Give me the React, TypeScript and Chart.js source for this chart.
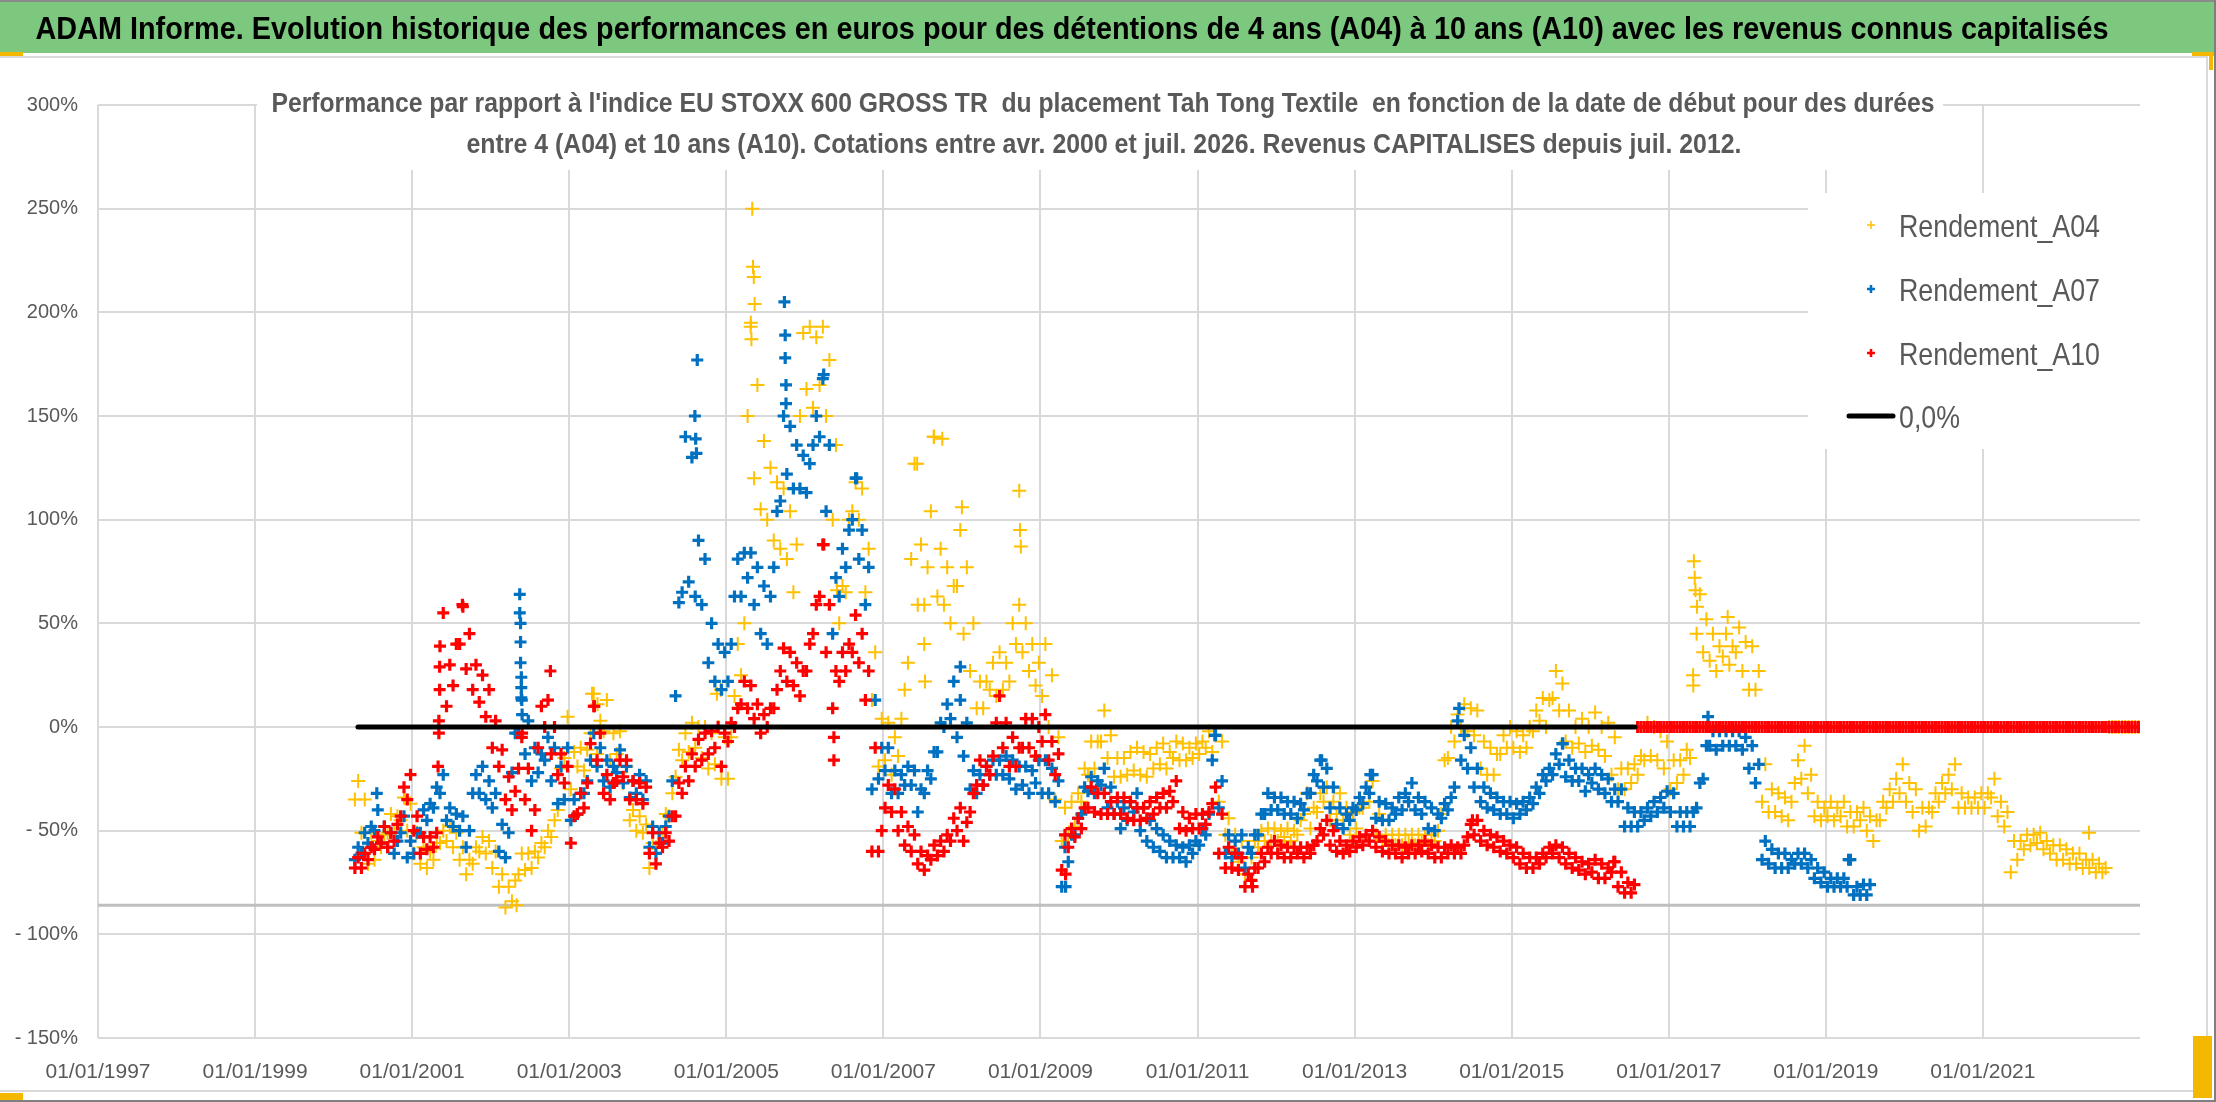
import React, { useEffect, useRef } from "react";
import { Chart, registerables } from "chart.js";

Chart.register(...registerables);

const TITLE =
  "ADAM Informe. Evolution historique des performances en euros pour des détentions de 4 ans (A04) à 10 ans (A10) avec les revenus connus capitalisés";
const SUBTITLE_1 =
  "Performance par rapport à l'indice EU STOXX 600 GROSS TR  du placement Tah Tong Textile  en fonction de la date de début pour des durées";
const SUBTITLE_2 =
  "entre 4 (A04) et 10 ans (A10). Cotations entre avr. 2000 et juil. 2026. Revenus CAPITALISES depuis juil. 2012.";

const SERIES_NAMES = ["Rendement_A04", "Rendement_A07", "Rendement_A10"];
const ZERO_NAME = "0,0%";

const X_MIN = 1997;
const X_MAX = 2023;
const X_TICK_YEARS = [1997, 1999, 2001, 2003, 2005, 2007, 2009, 2011, 2013, 2015, 2017, 2019, 2021];
const Y_TICKS = [-150, -100, -50, 0, 50, 100, 150, 200, 250, 300];
const AXIS_CROSS = -86;

// monthly series start in April 2000 (decimal year of the first month)
const FIRST_MONTH = 2000.25;

// Rendement_A04, bas / haut du nuage de points pour chaque mois (avr. 2000 -> déc. 2022)
const A04_LOW = [
  -35, -51, -66, -64, -58, -51, -51, -45, -50,
  -61, -66, -68, -64, -56, -55, -58, -64, -71, -66, -60, -61,
  -68, -77, -87, -84, -71, -69, -68, -63, -58, -53, -40, -15,
  -30, -19, -21, -3, -13, -2, -16, -13, -27, -45, -50, -51,
  -68, -58, -51, -43, -24, -16, -12, -10, -15, -20, -18, -25,
  -25, 15, 25, 150, 120, 105, 100, 90, 86, 81, 65, 150,
  163, 154, 165, 150, 100, 50, 65, 104, 100, 65, 13, -19,
  -16, -23, -14, 18, 81, 59, 59, 104, 63, 59, 50, 68,
  45, 27, 9, 9, 18, 15, 18, 22, 40, 36, 27, 20,
  15, 0, -35, -55, -52, -48, -36, -23, -20, -7, -15, -24,
  -24, -23, -21, -23, -24, -20, -18, -20, -15, -16, -16, -15,
  -13, -10, -12, -36, -52, -61, -65, -71, -63, -58, -55, -55,
  -55, -53, -55, -52, -42, -49, -41, -36, -45, -42, -45, -52,
  -49, -39, -36, -52, -55, -57, -57, -57, -56, -57, -56, -57,
  -55, -42, -15, -7, 0, -2, -4, -20, -23, -23, -13, -10,
  -10, -12, -10, -2, 3, 0, 14, 8, -7, -10, -8, -12,
  -9, -11, -14, -23, -30, -30, -27, -23, -16, -14, -16, -20,
  -30, -27, -23, -15, 45, 36, 32, 27, 34, 30, 36, 27,
  18, 18, -36, -41, -41, -43, -45, -27, -25, -32, -43, -45,
  -43, -45, -43, -48, -48, -45, -50, -55, -45, -39, -36, -32,
  -36, -41, -50, -48, -41, -36, -32, -30, -39, -39, -39, -39,
  -39, -34, -43, -48, -70, -64, -59, -57, -56, -59, -61, -64,
  -64, -66, -66, -68, -68, -70, -70, 0, 0, 0, 0, 0,
];
const A04_HIGH = [
  -26, -35, -51, -55, -52, -42, -43, -34, -37,
  -51, -58, -60, -56, -50, -48, -51, -58, -64, -58, -53, -55,
  -60, -71, -77, -74, -61, -61, -60, -56, -50, -45, -20, 5,
  -12, -10, -11, 16, 3, 13, -3, -2, -19, -40, -43, -47,
  -56, -51, -42, -32, -11, -3, 2, 0, 0, -3, 0, -5,
  -5, 40, 50, 195, 165, 138, 125, 118, 115, 104, 88, 190,
  193, 188, 193, 177, 136, 68, 100, 118, 115, 86, 36, 4,
  2, -5, 4, 31, 127, 88, 77, 140, 86, 77, 68, 95,
  77, 50, 22, 22, 31, 36, 31, 50, 59, 50, 40, 31,
  40, 25, -5, -39, -36, -32, -20, -7, -7, 8, -4, -15,
  -15, -12, -10, -12, -13, -10, -8, -12, -7, -8, -10, -8,
  -7, -2, -4, -7, -44, -52, -55, -58, -55, -50, -49, -49,
  -50, -49, -50, -45, -32, -39, -32, -29, -36, -32, -39, -41,
  -39, -29, -26, -42, -52, -52, -52, -52, -52, -52, -52, -52,
  -50, -16, 0, 6, 11, 9, 8, -7, -10, -13, -4, 0,
  -2, -4, 0, 8, 14, 13, 27, 21, 8, 0, 4, 0,
  7, 0, 2, -5, -20, -20, -18, -14, 2, 0, -2, -7,
  -16, -16, -11, 20, 64, 52, 45, 39, 45, 39, 48, 41,
  39, 27, -18, -30, -32, -34, -36, -16, -9, -23, -36, -39,
  -36, -39, -36, -41, -41, -39, -43, -45, -36, -30, -25, -18,
  -27, -30, -39, -39, -32, -27, -23, -18, -32, -34, -34, -32,
  -32, -25, -36, -41, -55, -55, -52, -52, -51, -55, -57, -57,
  -59, -61, -61, -64, -64, -66, -68, 0, 0, 0, 0, 0,
];
const A04_SPIKE_X = [2002.33, 2003.29, 2003.36, 2004.88, 2004.93, 2005.31, 2005.32, 2005.33, 2005.34, 2005.35, 2005.36, 2006.41, 2007.43, 2007.52, 2007.53, 2007.64, 2007.75, 2008.0, 2008.73, 2008.74, 2008.75, 2017.31, 2017.32, 2017.33, 2017.34, 2017.36, 2017.75, 2022.35];
const A04_SPIKE_Y = [-86, 16, 11, 16, 18, 193, 187, 250, 222, 217, 204, 66, 127, 40, 22, 140, 139, 106, 114, 95, 87, 25, 80, 72, 66, 58, 53, -51];

// Rendement_A07 (avr. 2000 -> juil. 2019)
const A07_LOW = [
  -64, -61, -56, -50, -56, -58, -61, -51, -63,
  -61, -51, -45, -39, -32, -45, -48, -50, -58, -32, -32, -35,
  -39, -60, -63, -22, -3, -13, -26, -22, -16, -26, -37, -35,
  -45, -42, -32, -16, -19, -26, -29, -22, -27, -34, -32, -35,
  -58, -61, -56, -43, 15, 65, 70, 63, 59, 31, 22, 18,
  22, 63, 63, 72, 59, 45, 40, 77, 109, 122, 115, 115,
  113, 136, 140, 104, 45, 63, 77, 100, 81, 59, -30, -25,
  -21, -32, -32, -28, -28, -41, -32, -25, -12, 0, 4, -5,
  -14, -30, -32, -28, -23, -23, -23, -25, -30, -28, -32, -27,
  -32, -32, -36, -77, -65, -52, -42, -31, -32, -28, -39, -42,
  -49, -45, -41, -50, -55, -58, -60, -63, -63, -63, -65, -61,
  -57, -52, -16, -39, -61, -63, -61, -68, -61, -52, -42, -40,
  -40, -42, -42, -44, -40, -32, -26, -29, -39, -47, -49, -45,
  -40, -37, -32, -44, -45, -45, -42, -40, -36, -40, -42, -49,
  -50, -44, -40, -29, -16, -20, -29, -36, -39, -40, -42, -42,
  -44, -42, -40, -37, -32, -26, -23, -18, -24, -26, -26, -31,
  -27, -30, -32, -36, -36, -48, -48, -48, -45, -43, -41, -39,
  -41, -48, -48, -48, -39, -25, -9, -11, -9, -9, -9, -11,
  -20, -27, -64, -66, -68, -68, -68, -66, -66, -68, -73, -75,
  -77, -77, -77, -77, -81, -81, -81,
];
const A07_HIGH = [
  -58, -51, -48, -40, -48, -51, -55, -43, -55,
  -51, -40, -37, -29, -23, -39, -42, -43, -50, -23, -19, -26,
  -32, -47, -51, -3, 13, 3, -10, -13, -5, -10, -19, -10,
  -35, -32, -26, -3, -10, -16, -19, -11, -19, -26, -23, -26,
  -48, -51, -48, -26, 60, 140, 130, 90, 81, 50, 40, 36,
  40, 81, 84, 84, 77, 68, 63, 104, 150, 145, 136, 131,
  127, 150, 168, 136, 72, 86, 95, 120, 95, 77, 13, -10,
  -10, -21, -23, -19, -21, -30, -21, -12, 2, 11, 22, 13,
  2, -21, -23, -19, -16, -16, -14, -16, -19, -19, -21, -16,
  -16, -20, -26, -58, -52, -44, -29, -24, -26, -20, -29, -36,
  -39, -36, -32, -39, -45, -49, -52, -55, -57, -58, -57, -55,
  -49, -42, -4, -26, -52, -55, -52, -58, -52, -42, -32, -34,
  -34, -36, -36, -37, -32, -23, -16, -20, -29, -39, -42, -39,
  -34, -29, -23, -36, -37, -39, -34, -32, -27, -34, -36, -39,
  -42, -37, -34, 3, -4, -10, -20, -29, -32, -34, -36, -36,
  -37, -36, -34, -29, -23, -20, -13, -8, -16, -20, -20, -23,
  -20, -23, -25, -30, -30, -39, -41, -41, -39, -36, -34, -31,
  -32, -41, -41, -41, -27, -9, -2, -2, -2, -2, -2, -5,
  -9, -18, -55, -59, -61, -61, -64, -61, -61, -64, -68, -70,
  -73, -73, -73, -64, -77, -76, -76,
];
const A07_SPIKE_X = [2000.55, 2002.37, 2002.37, 2002.38, 2002.38, 2002.38, 2002.39, 2002.39, 2002.39, 2002.4, 2004.6, 2004.61, 2004.62, 2004.63, 2005.74, 2005.75, 2005.75, 2005.76, 2005.76, 2006.24, 2006.66, 2007.98, 2009.32, 2011.22, 2012.58, 2013.2, 2014.33, 2015.65, 2017.5, 2019.29];
const A07_SPIKE_Y = [-32, 64, 55, 50, 41, 31, 24, 19, 14, 6, 150, 139, 132, 177, 205, 189, 178, 165, 156, 170, 120, 29, -77, -4, -16, -23, 9, -8, 5, -64];

// Rendement_A10 (avr. 2000 -> déc. 2022, à 0 après juil. 2016)
const A10_LOW = [
  -68, -68, -64, -59, -56, -58, -55, -43, -35,
  -50, -61, -59, -58, 39, 10, 20, 40, 28, 18, 12, 5,
  -10, -19, -35, -40, -20, -35, -50, -10, 0, -13, -23, -27,
  -56, -42, -39, -8, -16, -32, -35, -26, -24, -35, -35, -37,
  -61, -66, -58, -55, -43, -32, -26, -19, -16, -13, -10, -19,
  -7, 0, 11, 9, 4, -3, 0, 9, 27, 22, 20, 15,
  27, 45, 63, 36, 9, 22, 27, 36, 31, 13, -60, -60,
  -39, -41, -50, -57, -60, -66, -69, -64, -62, -60, -55, -50,
  -55, -41, -28, -28, -23, 2, -10, -19, -19, -10, -10, -14,
  -7, -16, -23, -69, -58, -53, -49, -39, -41, -42, -42, -42,
  -42, -44, -45, -45, -44, -42, -39, -39, -36, -49, -50, -49,
  -49, -47, -37, -61, -68, -68, -69, -77, -74, -68, -65, -61,
  -61, -63, -63, -61, -63, -61, -55, -52, -57, -60, -61, -60,
  -58, -57, -55, -58, -60, -61, -61, -63, -61, -61, -60, -61,
  -63, -63, -61, -61, -61, -53, -52, -55, -57, -58, -60, -61,
  -63, -66, -68, -68, -66, -63, -61, -63, -66, -68, -69, -71,
  -70, -73, -73, -70, -77, -80, -80, 0, 0, 0, 0, 0,
  0, 0, 0, 0, 0, 0, 0, 0, 0, 0, 0, 0,
  0, 0, 0, 0, 0, 0, 0, 0, 0, 0, 0, 0,
  0, 0, 0, 0, 0, 0, 0, 0, 0, 0, 0, 0,
  0, 0, 0, 0, 0, 0, 0, 0, 0, 0, 0, 0,
  0, 0, 0, 0, 0, 0, 0, 0, 0, 0, 0, 0,
  0, 0, 0, 0, 0, 0, 0, 0, 0, 0, 0, 0,
];
const A10_HIGH = [
  -63, -61, -58, -53, -48, -51, -47, -29, -23,
  -43, -53, -53, -51, 55, 30, 40, 58, 45, 30, 25, 18,
  3, -11, -24, -31, -5, -20, -40, 10, 13, 0, -13, -19,
  -43, -32, -27, 10, -3, -23, -27, -16, -16, -26, -27, -29,
  -51, -56, -51, -43, -27, -19, -13, -6, -3, -2, 0, -3,
  2, 9, 22, 20, 11, 6, 9, 18, 38, 36, 31, 27,
  40, 59, 88, 59, 27, 36, 40, 54, 45, 27, -10, -50,
  -28, -30, -41, -48, -52, -60, -62, -57, -55, -52, -44, -39,
  -46, -32, -16, -19, -14, 15, 2, -5, -10, 4, 4, 0,
  6, -7, -13, -52, -49, -44, -39, -29, -32, -32, -36, -34,
  -34, -36, -39, -39, -36, -34, -32, -31, -26, -41, -44, -42,
  -42, -41, -29, -42, -58, -61, -63, -71, -68, -61, -58, -55,
  -57, -58, -58, -58, -58, -57, -49, -45, -50, -55, -57, -55,
  -53, -52, -50, -53, -55, -57, -57, -58, -57, -57, -55, -57,
  -58, -58, -57, -58, -57, -47, -45, -50, -52, -53, -55, -57,
  -58, -61, -63, -63, -61, -58, -57, -58, -61, -63, -65, -66,
  -64, -66, -68, -65, -70, -75, -76, 0, 0, 0, 0, 0,
  0, 0, 0, 0, 0, 0, 0, 0, 0, 0, 0, 0,
  0, 0, 0, 0, 0, 0, 0, 0, 0, 0, 0, 0,
  0, 0, 0, 0, 0, 0, 0, 0, 0, 0, 0, 0,
  0, 0, 0, 0, 0, 0, 0, 0, 0, 0, 0, 0,
  0, 0, 0, 0, 0, 0, 0, 0, 0, 0, 0, 0,
  0, 0, 0, 0, 0, 0, 0, 0, 0, 0, 0, 0,
];
const A10_SPIKE_X = [2001.33, 2001.34, 2001.34, 2001.35, 2001.35, 2001.64, 2002.4, 2002.76, 2003.32, 2006.24, 2006.37, 2006.37, 2009.32, 2011.7, 2014.5, 2016.3];
const A10_SPIKE_Y = [-19, -3, 3, 18, 29, 59, -3, 27, 10, 88, -5, -16, -71, -77, -45, -65];

// ligne 0,0%
const ZERO_LINE_X = [2000.31, 2016.57];
const ZERO_LINE_Y = [0, 0];

const FONT = "'Liberation Sans', Arial, sans-serif";
const TEXT_GREY = "#595959";
const GRID = "#d9d9d9";
const YELLOW = "#ffc000";
const BLUE = "#0070c0";
const RED = "#ff0000";
const BANNER = "#7cc87e";
const HANDLE = "#f5b800";

// the low reading of a month sits early in the month, the high one later
function monthPoints(values: number[], offset: number) {
  return values.map((v, i) => ({ x: FIRST_MONTH + (i + offset) / 12, y: v }));
}

function pairPoints(xs: number[], ys: number[]) {
  return xs.map((x, i) => ({ x, y: ys[i] }));
}

function fitText(ctx: CanvasRenderingContext2D, text: string, x: number, baseline: number, width: number, align: "center" | "left") {
  const w = ctx.measureText(text).width;
  ctx.save();
  ctx.translate(x, baseline);
  ctx.scale(width / w, 1);
  ctx.textAlign = align;
  ctx.textBaseline = "alphabetic";
  ctx.fillText(text, 0, 0);
  ctx.restore();
}

function drawCross(ctx: CanvasRenderingContext2D, x: number, y: number, r: number, color: string, lw: number) {
  ctx.strokeStyle = color;
  ctx.lineWidth = lw;
  ctx.beginPath();
  ctx.moveTo(x - r, y);
  ctx.lineTo(x + r, y);
  ctx.moveTo(x, y - r);
  ctx.lineTo(x, y + r);
  ctx.stroke();
}

const decorPlugin = {
  id: "decor",
  beforeDraw(chart: any) {
    const { ctx, width, height } = chart;
    ctx.save();
    ctx.fillStyle = "#ffffff";
    ctx.fillRect(0, 0, width, height);
    ctx.restore();
  },
  beforeDatasetsDraw(chart: any) {
    const { ctx, chartArea, scales } = chart;
    const y = scales.y.getPixelForValue(AXIS_CROSS);
    ctx.save();
    ctx.strokeStyle = "#bfbfbf";
    ctx.lineWidth = 3;
    ctx.beginPath();
    ctx.moveTo(chartArea.left, y);
    ctx.lineTo(chartArea.right, y);
    ctx.stroke();
    ctx.restore();
  },
  afterDraw(chart: any) {
    const ctx: CanvasRenderingContext2D = chart.ctx;
    ctx.save();

    // bandeau du titre
    ctx.fillStyle = BANNER;
    ctx.fillRect(0, 0, 2216, 53);
    ctx.fillStyle = "#8a8a8a";
    ctx.fillRect(0, 0, 2216, 2);
    ctx.fillStyle = "#000000";
    ctx.font = `bold 32px ${FONT}`;
    fitText(ctx, TITLE, 1072, 39, 2073, "center");

    // cadre du graphique
    ctx.fillStyle = GRID;
    ctx.fillRect(0, 56, 2208, 2);
    ctx.fillRect(2206, 56, 2, 1036);
    ctx.fillRect(0, 1090, 2208, 2);
    ctx.fillStyle = "#7f7f7f";
    ctx.fillRect(2214, 0, 2, 1102);
    ctx.fillRect(0, 1100, 2216, 2);

    // poignées de sélection
    ctx.fillStyle = HANDLE;
    ctx.fillRect(0, 52, 23, 4);
    ctx.fillRect(2192, 52, 22, 4);
    ctx.fillRect(2209, 52, 4, 18);
    ctx.fillRect(0, 1093, 23, 7);
    ctx.fillRect(2193, 1036, 19, 62);

    // sous-titre
    ctx.fillStyle = "#ffffff";
    ctx.fillRect(257, 86, 1686, 84);
    ctx.fillStyle = TEXT_GREY;
    ctx.font = `bold 27px ${FONT}`;
    fitText(ctx, SUBTITLE_1, 1103, 112, 1663, "center");
    fitText(ctx, SUBTITLE_2, 1104, 153, 1275, "center");

    // légende
    ctx.fillStyle = "#ffffff";
    ctx.fillRect(1808, 193, 332, 256);
    const rows = [225, 289, 353, 416];
    const colors = [YELLOW, BLUE, RED];
    ctx.font = `32px ${FONT}`;
    const sx = 201 / ctx.measureText(SERIES_NAMES[0]).width;
    SERIES_NAMES.forEach((name, i) => {
      drawCross(ctx, 1871, rows[i], 4, colors[i], i === 0 ? 1.5 : 2.5);
      ctx.fillStyle = TEXT_GREY;
      fitText(ctx, name, 1899, rows[i] + 11.5, ctx.measureText(name).width * sx, "left");
    });
    ctx.strokeStyle = "#000000";
    ctx.lineWidth = 5;
    ctx.lineCap = "round";
    ctx.beginPath();
    ctx.moveTo(1849, rows[3]);
    ctx.lineTo(1893, rows[3]);
    ctx.stroke();
    ctx.fillStyle = TEXT_GREY;
    fitText(ctx, ZERO_NAME, 1899, rows[3] + 11.5, ctx.measureText(ZERO_NAME).width * sx, "left");

    ctx.restore();
  },
};

export default function App() {
  const canvasRef = useRef<HTMLCanvasElement | null>(null);
  const chartRef = useRef<Chart | null>(null);

  useEffect(() => {
    document.body.style.margin = "0";
    if (!canvasRef.current) return;
    if (chartRef.current) chartRef.current.destroy();
    const ctx = canvasRef.current.getContext("2d");
    if (!ctx) return;

    const crossSeries = (label: string, low: number[], high: number[], sxs: number[], sys: number[], color: string, radius: number, width: number, order: number) => ({
      label,
      data: [...monthPoints(low, 0.25), ...monthPoints(high, 0.75), ...pairPoints(sxs, sys)],
      pointStyle: "cross",
      pointRadius: radius,
      pointBorderWidth: width,
      pointBorderColor: color,
      pointBackgroundColor: color,
      borderColor: color,
      order,
    });

    chartRef.current = new Chart(ctx, {
      type: "scatter",
      data: {
        datasets: [
          {
            label: ZERO_NAME,
            data: pairPoints(ZERO_LINE_X, ZERO_LINE_Y),
            showLine: true,
            borderColor: "#000000",
            borderWidth: 5,
            borderCapStyle: "round",
            pointRadius: 0,
            order: 0,
          },
          crossSeries(SERIES_NAMES[2], A10_LOW, A10_HIGH, A10_SPIKE_X, A10_SPIKE_Y, RED, 6, 3.2, 1),
          crossSeries(SERIES_NAMES[1], A07_LOW, A07_HIGH, A07_SPIKE_X, A07_SPIKE_Y, BLUE, 6, 3.2, 2),
          crossSeries(SERIES_NAMES[0], A04_LOW, A04_HIGH, A04_SPIKE_X, A04_SPIKE_Y, YELLOW, 7, 2, 3),
        ] as any,
      },
      options: {
        animation: false,
        responsive: true,
        maintainAspectRatio: false,
        events: [],
        layout: { padding: { left: 0, right: 76, top: 105, bottom: 0 } },
        plugins: {
          legend: { display: false },
          title: { display: false },
          tooltip: { enabled: false },
        },
        scales: {
          x: {
            type: "linear",
            min: X_MIN,
            max: X_MAX,
            afterBuildTicks: (axis: any) => {
              axis.ticks = X_TICK_YEARS.map(v => ({ value: v }));
            },
            afterFit: (axis: any) => {
              axis.height = 64;
            },
            border: { display: false },
            grid: { color: GRID, lineWidth: 2, drawTicks: false },
            ticks: {
              color: TEXT_GREY,
              font: { family: FONT, size: 21 },
              padding: 22,
              maxRotation: 0,
              autoSkip: false,
              callback: (value: any) => "01/01/" + value,
            },
          },
          y: {
            type: "linear",
            min: Y_TICKS[0],
            max: Y_TICKS[Y_TICKS.length - 1],
            afterBuildTicks: (axis: any) => {
              axis.ticks = Y_TICKS.map(v => ({ value: v }));
            },
            afterFit: (axis: any) => {
              axis.width = 98;
            },
            border: { display: false },
            grid: { color: GRID, lineWidth: 2, drawTicks: false },
            ticks: {
              color: TEXT_GREY,
              font: { family: FONT, size: 20 },
              padding: 20,
              callback: (value: any) => (Number(value) < 0 ? "- " + -Number(value) + "%" : value + "%"),
            },
          },
        },
      },
      plugins: [decorPlugin],
    });

    return () => {
      if (chartRef.current) {
        chartRef.current.destroy();
        chartRef.current = null;
      }
    };
  }, []);

  return (
    <div style={{ width: 2216, height: 1102, position: "relative" }}>
      <canvas ref={canvasRef} />
    </div>
  );
}
